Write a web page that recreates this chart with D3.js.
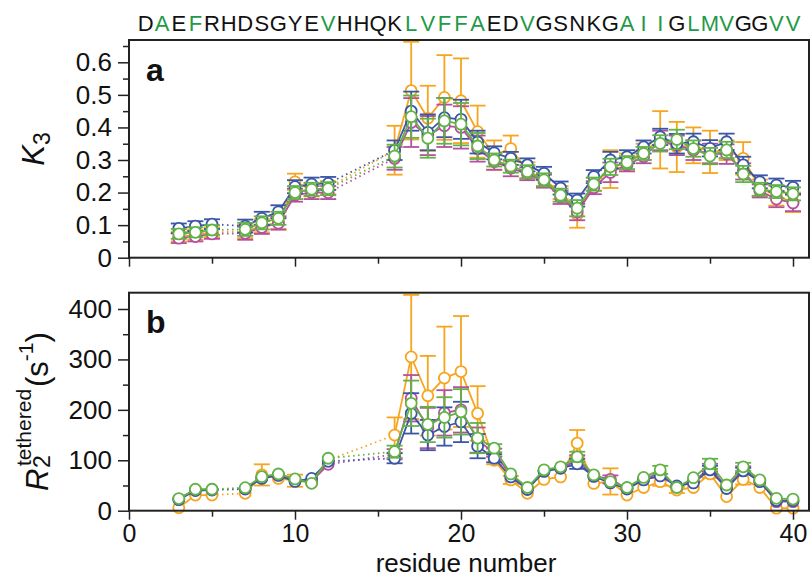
<!DOCTYPE html>
<html><head><meta charset="utf-8">
<script src="https://cdn.jsdelivr.net/npm/d3@7"></script>
<style>body{margin:0;background:#fff}svg{display:block}text{font-family:"Liberation Sans",Arial,Helvetica,sans-serif}</style>
</head><body>
<svg id="c" width="811" height="577"></svg>
<script>
const sequence = "DAEFRHDSGYEVHHQKLVFFAEDVGSNKGAIIGLMVGGVV".split("");
const greenResidues = [2,4,12,17,18,19,20,21,24,30,31,32,34,35,36,39,40];
const residues = [3,4,5,7,8,9,10,11,12,16,17,18,19,20,21,22,23,24,25,26,27,28,29,30,31,32,33,34,35,36,37,38,39,40];
const segments = [[3,5],[7,12],[16,40]];
const seriesNames = ["orange","magenta","blue","green"];
const seriesColors = ["#f7a51f","#b5509e","#3a56a5","#62b246"];
// panel a: K3
const k3Orange  = [0.065,0.070,0.078,0.080,0.098,0.108,0.233,0.208,0.215,0.330,0.513,0.428,0.492,0.482,0.387,0.315,0.335,0.268,0.240,0.200,0.132,0.225,0.272,0.295,0.325,0.362,0.340,0.345,0.325,0.330,0.305,0.215,0.190,0.170];
const k3Magenta = [0.060,0.065,0.073,0.075,0.093,0.106,0.192,0.200,0.200,0.305,0.415,0.375,0.405,0.400,0.335,0.295,0.275,0.258,0.235,0.185,0.140,0.215,0.262,0.285,0.310,0.360,0.345,0.330,0.320,0.318,0.265,0.205,0.180,0.168];
const k3Blue    = [0.090,0.097,0.103,0.097,0.121,0.141,0.218,0.226,0.228,0.330,0.450,0.385,0.430,0.425,0.355,0.322,0.305,0.285,0.259,0.214,0.177,0.249,0.300,0.310,0.340,0.371,0.350,0.356,0.336,0.356,0.285,0.233,0.223,0.216];
const k3Green   = [0.073,0.078,0.085,0.087,0.107,0.121,0.200,0.210,0.212,0.312,0.433,0.367,0.420,0.410,0.343,0.300,0.281,0.264,0.239,0.192,0.152,0.226,0.279,0.292,0.320,0.351,0.363,0.335,0.312,0.331,0.257,0.210,0.203,0.196];
const k3ErrOrange  = [0.015,0.015,0.015,0.020,0.020,0.020,0.025,0.020,0.020,0.075,0.150,0.100,0.130,0.130,0.080,0.045,0.040,0.025,0.020,0.020,0.040,0.020,0.058,0.025,0.025,0.088,0.077,0.055,0.065,0.030,0.050,0.025,0.030,0.030];
const k3ErrMagenta = [0.015,0.015,0.015,0.020,0.020,0.020,0.020,0.020,0.020,0.035,0.075,0.060,0.065,0.065,0.040,0.025,0.025,0.020,0.020,0.020,0.025,0.020,0.030,0.020,0.020,0.030,0.030,0.030,0.030,0.030,0.025,0.020,0.025,0.025];
const k3ErrBlue    = [0.015,0.015,0.015,0.020,0.020,0.020,0.020,0.020,0.020,0.030,0.060,0.055,0.060,0.060,0.035,0.020,0.020,0.020,0.020,0.020,0.020,0.020,0.025,0.020,0.020,0.025,0.030,0.025,0.025,0.025,0.025,0.020,0.020,0.020];
const k3ErrGreen   = [0.015,0.015,0.015,0.020,0.020,0.020,0.020,0.020,0.020,0.035,0.065,0.060,0.070,0.065,0.040,0.020,0.020,0.020,0.020,0.020,0.025,0.020,0.025,0.020,0.020,0.025,0.030,0.025,0.025,0.025,0.025,0.020,0.020,0.020];
// panel b: R2 tethered
const r2Orange  = [6,31,31,34.5,71,64,59.5,56,100,150,305,228,263,276,193,100,61,34.5,62,67,134,54,58,31,46,57.5,41,46,73,28,62,46,5,5];
const r2Magenta = [23,41,42,44,66,71,60,58,92,112,223,164,194,200,140,115,70,44,79,85,100,69,62,44,63,74,47,58,85,47,82,59,18,18];
const r2Blue    = [22,40,41,43,64,70,58,64,98,104,193,150,167,176,128,104,67,42,78,84,93,68,55,43,61,69,49,55,81,44,79,57.5,20,20];
const r2Green   = [24,42.5,42.5,45.6,67.5,72.8,63,54.3,104,117,213,171,185,196,144,124,73,46,81,87,107,71,57.5,46,66,81,46,65.5,93,51,87,61,24.6,23];
const r2ErrOrange  = [0,0,0,0,21,0,12,0,0,35,123,79,102,110,54,8,8,0,0,0,26,0,26,0,0,8,6,0,8,0,10,0,0,0];
const r2ErrMagenta = [0,0,0,0,0,0,0,0,0,10,46,40,45,45,25,8,0,0,0,0,10,0,8,0,0,0,0,0,8,0,6,0,0,0];
const r2ErrBlue    = [0,0,0,0,0,0,0,0,0,10,40,30,38,40,24,8,0,0,0,0,10,0,0,0,0,0,0,0,8,0,6,0,0,0];
const r2ErrGreen   = [0,0,0,0,0,0,0,0,0,12,45,35,40,45,30,8,0,0,0,0,10,0,0,0,0,8,0,0,10,0,8,0,0,0];
const xTicks = [0,10,20,30,40];
const k3Ticks = [0,0.1,0.2,0.3,0.4,0.5,0.6];
const r2Ticks = [0,100,200,300,400];

const svg = d3.select("#c");
const L = 129, R = 809;
const x = d3.scaleLinear().domain([0, 40]).range([L, 793]);
const yA = d3.scaleLinear().domain([0, 0.6]).range([257.7, 62.3]);
const yB = d3.scaleLinear().domain([0, 400]).range([510.7, 309]);
const frameA = {top: 40, bottom: 257.7};
const frameB = {top: 292.7, bottom: 510.7};

function panel(y, frame, vals, errs, ticks, minorStep, fmt, showXLabels) {
  const g = svg.append("g");
  const lineGen = d3.line().x(d => x(d.r)).y(d => y(d.v));
  seriesNames.forEach((name, si) => {
    const col = seriesColors[si];
    const pts = residues.map((r, i) => ({r, v: vals[si][i], e: errs[si][i]}));
    const sg = g.append("g");
    for (let k = 0; k < segments.length - 1; k++) {
      const a = pts.find(p => p.r === segments[k][1]);
      const b = pts.find(p => p.r === segments[k+1][0]);
      sg.append("path").attr("d", lineGen([a, b])).attr("fill", "none")
        .attr("stroke", col).attr("stroke-width", 1.8).attr("stroke-dasharray", "1.5,3.5");
    }
    segments.forEach(s => {
      const seg = pts.filter(p => p.r >= s[0] && p.r <= s[1]);
      sg.append("path").attr("d", lineGen(seg)).attr("fill", "none")
        .attr("stroke", col).attr("stroke-width", 1.8);
    });
    pts.filter(p => p.e > 0).forEach(p => {
      const eb = sg.append("g").attr("stroke", col).attr("stroke-width", 1.8);
      eb.append("line").attr("x1", x(p.r)).attr("x2", x(p.r)).attr("y1", y(p.v - p.e)).attr("y2", y(p.v + p.e));
      [p.v - p.e, p.v + p.e].forEach(v => eb.append("line")
        .attr("x1", x(p.r) - 8).attr("x2", x(p.r) + 8).attr("y1", y(v)).attr("y2", y(v)));
    });
    sg.selectAll("circle").data(pts).enter().append("circle")
      .attr("cx", d => x(d.r)).attr("cy", d => y(d.v)).attr("r", 5.5)
      .attr("fill", "#fff").attr("stroke", col).attr("stroke-width", 1.8);
  });
  g.append("rect").attr("x", L).attr("y", frame.top).attr("width", R - L).attr("height", frame.bottom - frame.top)
    .attr("fill", "none").attr("stroke", "#222").attr("stroke-width", 2);
  const yMax = y.invert(frame.top);
  const minor = d3.range(0, yMax + 1e-9, minorStep).filter(v => !ticks.some(t => Math.abs(t - v) < 1e-9));
  const ya = d3.axisLeft(y).tickValues(ticks).tickSize(11).tickPadding(6).tickFormat(fmt);
  const yg = g.append("g").attr("transform", `translate(${L},0)`).call(ya);
  yg.select(".domain").remove();
  yg.selectAll("line").attr("stroke", "#222").attr("stroke-width", 1.5);
  yg.selectAll("text").attr("font-size", 26).attr("fill", "#111");
  const ym = d3.axisLeft(y).tickValues(minor).tickSize(6).tickFormat("");
  const ymg = g.append("g").attr("transform", `translate(${L},0)`).call(ym);
  ymg.select(".domain").remove();
  ymg.selectAll("line").attr("stroke", "#222").attr("stroke-width", 1.5);
  const xa = d3.axisBottom(x).tickValues(xTicks).tickSize(9).tickPadding(5).tickFormat(showXLabels ? d3.format("d") : "");
  const xg = g.append("g").attr("transform", `translate(0,${frame.bottom})`).call(xa);
  xg.select(".domain").remove();
  xg.selectAll("line").attr("stroke", "#222").attr("stroke-width", 1.5);
  xg.selectAll("text").attr("font-size", 25).attr("fill", "#111");
  const xm = d3.axisBottom(x).tickValues([5,15,25,35]).tickSize(6).tickFormat("");
  const xmg = g.append("g").attr("transform", `translate(0,${frame.bottom})`).call(xm);
  xmg.select(".domain").remove();
  xmg.selectAll("line").attr("stroke", "#222").attr("stroke-width", 1.5);
  return g;
}

panel(yA, frameA, [k3Orange, k3Magenta, k3Blue, k3Green], [k3ErrOrange, k3ErrMagenta, k3ErrBlue, k3ErrGreen],
      k3Ticks, 0.05, d => d === 0 ? "0" : d3.format(".1f")(d), false);
panel(yB, frameB, [r2Orange, r2Magenta, r2Blue, r2Green], [r2ErrOrange, r2ErrMagenta, r2ErrBlue, r2ErrGreen],
      r2Ticks, 50, d3.format("d"), true);

svg.append("g").selectAll("text").data(sequence).enter().append("text")
  .attr("x", (d, i) => x(i + 1)).attr("y", 31).attr("text-anchor", "middle")
  .attr("font-size", 22)
  .attr("fill", (d, i) => greenResidues.includes(i + 1) ? "#1f9a48" : "#111")
  .text(d => d);

svg.append("text").attr("x", 146).attr("y", 80.5).attr("font-size", 32).attr("font-weight", "bold").attr("fill", "#111").text("a");
svg.append("text").attr("x", 146).attr("y", 333).attr("font-size", 32).attr("font-weight", "bold").attr("fill", "#111").text("b");

svg.append("text").attr("x", 466).attr("y", 571.5).attr("text-anchor", "middle").attr("font-size", 26).attr("fill", "#111").text("residue number");

const ta = svg.append("text").attr("transform", "translate(44,149) rotate(-90)").attr("text-anchor", "middle").attr("font-size", 31).attr("fill", "#111");
ta.append("tspan").attr("font-style", "italic").text("K");
ta.append("tspan").attr("font-size", 23).attr("dy", 6).text("3");

const gb = svg.append("g").attr("transform", "translate(48,491) rotate(-90)");
gb.append("text").attr("x", 0).attr("y", 0).attr("font-size", 31).attr("font-style", "italic").attr("fill", "#111").text("R");
gb.append("text").attr("x", 23).attr("y", 2).attr("font-size", 23).attr("fill", "#111").text("2");
gb.append("text").attr("x", 25).attr("y", -17).attr("font-size", 21).attr("fill", "#111").text("tethered");
const sb = gb.append("text").attr("x", 104).attr("y", 0).attr("font-size", 31).attr("fill", "#111");
sb.append("tspan").text("(s");
sb.append("tspan").attr("font-size", 21).attr("dy", -15).text("-1");
sb.append("tspan").attr("dy", 15).text(")");
</script>
</body></html>
